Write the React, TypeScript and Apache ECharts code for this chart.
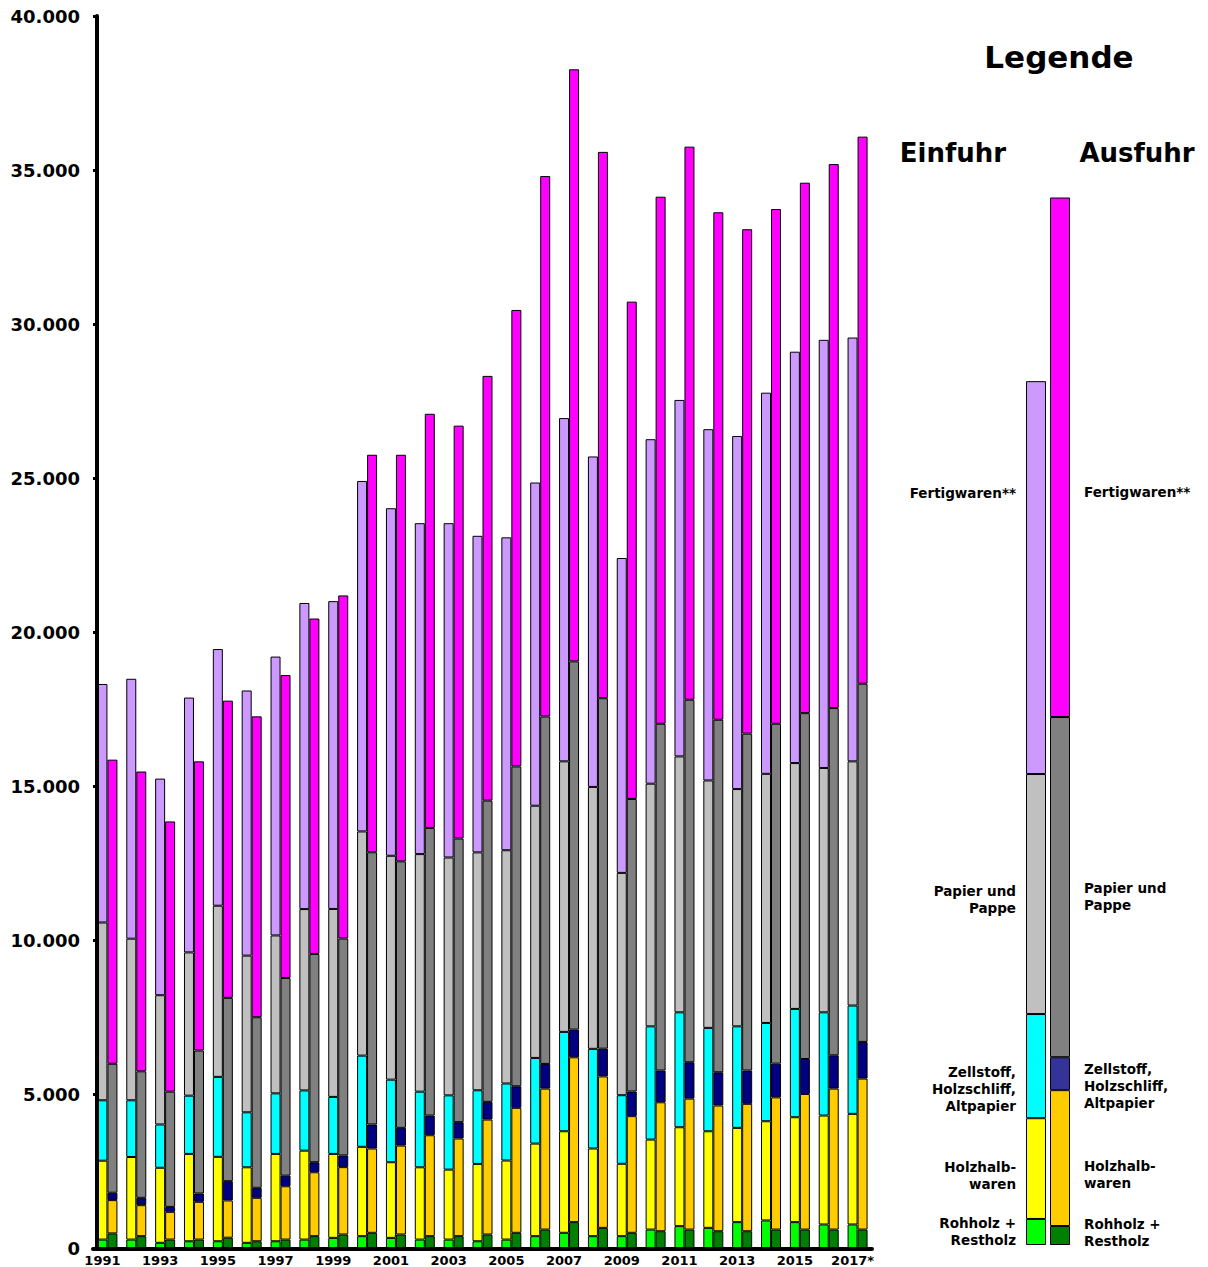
import React, { useEffect, useRef } from "react";
import * as echarts from "echarts";

const years = [
  "1991", "1992", "1993", "1994", "1995", "1996", "1997", "1998", "1999", "2000",
  "2001", "2002", "2003", "2004", "2005", "2006", "2007", "2008", "2009", "2010",
  "2011", "2012", "2013", "2014", "2015", "2016", "2017*",
];

const yTicks = [0, 5000, 10000, 15000, 20000, 25000, 30000, 35000, 40000];

// Einfuhr (import)
const impRohholz = [290, 290, 185, 235, 235, 185, 235, 290, 345, 400, 345, 290, 290, 235, 290, 400, 510, 400, 400, 615, 725, 670, 855, 910, 855, 780, 780];
const impHalbwaren = [2560, 2680, 2435, 2835, 2740, 2450, 2835, 2885, 2725, 2900, 2455, 2345, 2270, 2510, 2565, 3005, 3295, 2845, 2350, 2920, 3210, 3135, 3060, 3220, 3405, 3535, 3590];
const impZellstoff = [1960, 1840, 1405, 1890, 2595, 1785, 1965, 1955, 1850, 2960, 2680, 2455, 2410, 2390, 2500, 2780, 3225, 3235, 2225, 3675, 3730, 3355, 3295, 3190, 3515, 3350, 3515];
const impPapier = [5770, 5245, 4195, 4650, 5555, 5085, 5125, 5885, 6100, 7275, 7265, 7710, 7720, 7720, 7570, 8185, 8780, 8500, 7215, 7875, 8305, 8030, 7700, 8085, 7980, 7930, 7925];
const impFertig = [7740, 8435, 7030, 8270, 8330, 8605, 9050, 9935, 9990, 11375, 11280, 10740, 10850, 10275, 10155, 10490, 11140, 10725, 10220, 11180, 11570, 11400, 11460, 12370, 13350, 13895, 13755];

// Ausfuhr (export)
const expRohholz = [490, 400, 290, 290, 350, 235, 290, 400, 455, 510, 455, 400, 400, 455, 510, 615, 855, 670, 510, 560, 615, 560, 560, 615, 615, 615, 615];
const expHalbwaren = [1080, 1005, 900, 1225, 1210, 1410, 1730, 2075, 2185, 2735, 2885, 3275, 3170, 3730, 4055, 4575, 5350, 4915, 3785, 4185, 4250, 4080, 4135, 4290, 4400, 4575, 4900];
const expZellstoff = [240, 240, 160, 270, 625, 325, 345, 325, 380, 780, 575, 640, 530, 575, 700, 800, 900, 900, 800, 1030, 1180, 1080, 1080, 1095, 1135, 1080, 1190];
const expPapier = [4185, 4105, 3740, 4640, 5950, 5535, 6415, 6760, 7040, 8835, 8650, 9335, 9205, 9775, 10380, 11275, 11950, 11375, 9495, 11255, 11765, 11440, 10935, 11030, 11225, 11270, 11625];
const expFertig = [9870, 9730, 8770, 9385, 9645, 9765, 9830, 10885, 11135, 12900, 13195, 13440, 13400, 13785, 14815, 17540, 19215, 17730, 16140, 17105, 17950, 16470, 16370, 16705, 17215, 17655, 17755];

// Legend illustration bars (Rohholz, Halbwaren, Zellstoff, Papier, Fertigwaren)
const legendImport = [845, 3270, 3380, 7790, 12750];
const legendExport = [615, 4410, 1070, 11040, 16860];

const groupNames = ["Rohholz + Restholz", "Holzhalbwaren", "Zellstoff, Holzschliff, Altpapier", "Papier und Pappe", "Fertigwaren**"];
const impColors = ["#00FF00", "#FFFF00", "#00FFFF", "#C0C0C0", "#CC99FF"];
const expColors = ["#008000", "#FFCC00", "#000080", "#808080", "#FF00FF"];
const legendExpColors = ["#008000", "#FFCC00", "#333399", "#808080", "#FF00FF"];

const FONT = "DejaVu Sans, Verdana, sans-serif";

function fmt(v: number): string {
  if (v === 0) return "0";
  return String(Math.floor(v / 1000)) + ".000";
}

function buildOption() {
  const impData = [impRohholz, impHalbwaren, impZellstoff, impPapier, impFertig];
  const expData = [expRohholz, expHalbwaren, expZellstoff, expPapier, expFertig];
  const series: any[] = [];
  const border = { borderColor: "#000", borderWidth: 1 };
  for (let i = 0; i < 5; i++) {
    series.push({
      type: "bar", name: "Einfuhr " + groupNames[i], stack: "imp", data: impData[i],
      xAxisIndex: 0, yAxisIndex: 0, barWidth: 10, barGap: "0%",
      itemStyle: { color: impColors[i], ...border }, silent: true,
    });
  }
  for (let i = 0; i < 5; i++) {
    series.push({
      type: "bar", name: "Ausfuhr " + groupNames[i], stack: "exp", data: expData[i],
      xAxisIndex: 0, yAxisIndex: 0, barWidth: 10, barGap: "0%",
      itemStyle: { color: expColors[i], ...border }, silent: true,
    });
  }
  for (let i = 0; i < 5; i++) {
    series.push({
      type: "bar", name: "L-Einfuhr " + groupNames[i], stack: "limp", data: [legendImport[i]],
      xAxisIndex: 1, yAxisIndex: 1, barWidth: 20, barGap: "20%",
      itemStyle: { color: impColors[i], ...border }, silent: true,
    });
  }
  for (let i = 0; i < 5; i++) {
    series.push({
      type: "bar", name: "L-Ausfuhr " + groupNames[i], stack: "lexp", data: [legendExport[i]],
      xAxisIndex: 1, yAxisIndex: 1, barWidth: 20, barGap: "20%",
      itemStyle: { color: legendExpColors[i], ...border }, silent: true,
    });
  }

  const t = (text: string, x: number, y: number, size: number, align: string, lh?: number) => ({
    type: "text", x, y, silent: true,
    style: {
      text, fill: "#000", fontSize: size, fontWeight: "bold", fontFamily: FONT,
      textAlign: align, textVerticalAlign: "middle", lineHeight: lh || size * 1.2,
    },
  });

  return {
    animation: false,
    backgroundColor: "#fff",
    grid: [
      { left: 93, top: 16, width: 779, height: 1232.5, containLabel: false },
      { left: 1026, top: 12.5, width: 44, height: 1232.5, containLabel: false },
    ],
    xAxis: [
      {
        type: "category", gridIndex: 0, data: years, boundaryGap: true, z: 5,
        axisLine: { show: true, lineStyle: { color: "#000", width: 4 } },
        axisTick: { show: false },
        axisLabel: {
          interval: 1, color: "#000", fontSize: 13, fontWeight: "bold", fontFamily: FONT,
          margin: 5, padding: [0, 10, 0, 0],
        },
        splitLine: { show: false },
      },
      { type: "category", gridIndex: 1, data: [""], show: false },
    ],
    yAxis: [
      {
        type: "value", gridIndex: 0, min: 0, max: 40000, interval: 5000, offset: -4, z: 5,
        axisLine: { show: true, lineStyle: { color: "#000", width: 4 } },
        axisTick: { show: true, inside: false, length: 4, lineStyle: { color: "#000", width: 3 } },
        axisLabel: {
          color: "#000", fontSize: 18, fontWeight: "bold", fontFamily: FONT, margin: 17,
          formatter: (v: number) => (yTicks.indexOf(v) >= 0 ? fmt(v) : ""),
        },
        splitLine: { show: false },
      },
      { type: "value", gridIndex: 1, min: 0, max: 40000, show: false },
    ],
    series,
    graphic: [
      t("Legende", 1059, 57, 31, "center"),
      t("Einfuhr", 953, 153, 26, "center"),
      t("Ausfuhr", 1137, 153, 26, "center"),
      t("Fertigwaren**", 1016, 493, 13.5, "right"),
      t("Papier und\nPappe", 1016, 899, 13.5, "right", 17),
      t("Zellstoff,\nHolzschliff,\nAltpapier", 1016, 1089, 13.5, "right", 17),
      t("Holzhalb-\nwaren", 1016, 1175, 13.5, "right", 17),
      t("Rohholz +\nRestholz", 1016, 1231, 13.5, "right", 17),
      t("Fertigwaren**", 1084, 492, 13.5, "left"),
      t("Papier und\nPappe", 1084, 896, 13.5, "left", 17),
      t("Zellstoff,\nHolzschliff,\nAltpapier", 1084, 1086, 13.5, "left", 17),
      t("Holzhalb-\nwaren", 1084, 1174, 13.5, "left", 17),
      t("Rohholz +\nRestholz", 1084, 1232, 13.5, "left", 17),
    ],
  };
}

export default function App() {
  const ref = useRef<HTMLDivElement>(null);
  useEffect(() => {
    if (!ref.current) return;
    const chart = echarts.init(ref.current, null, { renderer: "svg" });
    chart.setOption(buildOption() as any);
    return () => chart.dispose();
  }, []);
  return (
    <div
      ref={ref}
      style={{ position: "absolute", left: 0, top: 0, width: 1208, height: 1267, overflow: "hidden", background: "#fff" }}
    />
  );
}
